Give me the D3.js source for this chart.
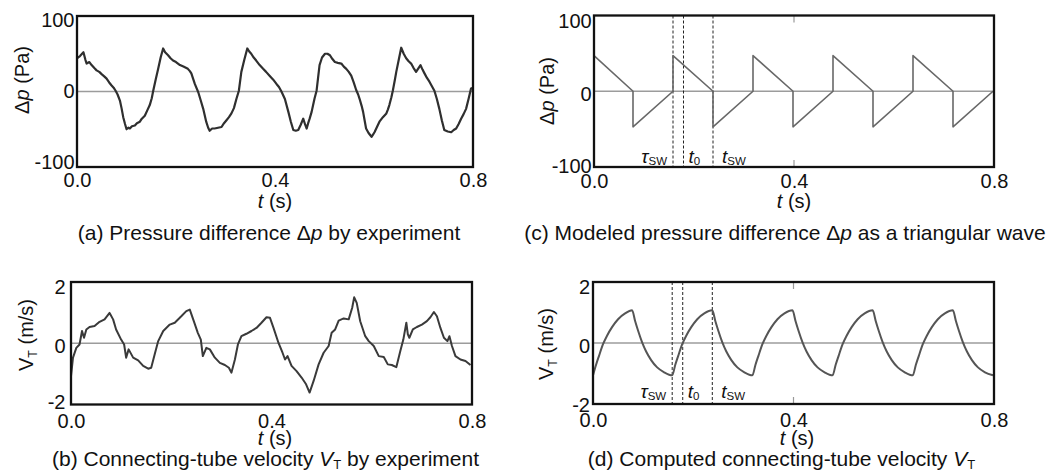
<!DOCTYPE html>
<html>
<head>
<meta charset="utf-8">
<script src="https://cdn.jsdelivr.net/npm/d3@7"></script>
<style>
  body { margin: 0; background: #fff; }
  svg text { font-family: "Liberation Sans", Arial, sans-serif; }
</style>
</head>
<body>
<svg id="chart" width="1048" height="473"></svg>
<script>
// ---- tick values ----
const timeTicks = [0, 0.4, 0.8];
const pressureTicks = [-100, 0, 100];
const velocityTicks = [-2, 0, 2];

// ---- (a) measured pressure difference Δp (Pa) ----
const expPressureT = [0.000,0.006,0.013,0.017,0.0195,0.025,0.0295,0.035,0.0396,0.045,0.0497,0.055,0.0598,0.065,0.0699,0.074,0.078,0.082,0.0867,0.090,0.0934,0.097,0.1001,0.104,0.1068,0.111,0.1169,0.121,0.127,0.131,0.137,0.142,0.147,0.151,0.154,0.159,0.164,0.169,0.174,0.178,0.184,0.189,0.194,0.200,0.208,0.215,0.224,0.228,0.231,0.235,0.238,0.245,0.250,0.255,0.261,0.265,0.268,0.273,0.278,0.285,0.292,0.297,0.302,0.307,0.312,0.317,0.322,0.327,0.332,0.338,0.344,0.348,0.352,0.357,0.362,0.369,0.376,0.382,0.389,0.396,0.403,0.408,0.413,0.420,0.427,0.432,0.437,0.442,0.447,0.452,0.457,0.461,0.464,0.467,0.470,0.474,0.477,0.480,0.484,0.487,0.490,0.495,0.501,0.506,0.511,0.516,0.521,0.527,0.534,0.539,0.544,0.549,0.554,0.559,0.564,0.568,0.571,0.575,0.578,0.581,0.584,0.589,0.595,0.598,0.601,0.606,0.611,0.618,0.625,0.628,0.631,0.635,0.638,0.642,0.645,0.650,0.655,0.660,0.665,0.670,0.675,0.680,0.685,0.690,0.694,0.698,0.702,0.707,0.712,0.717,0.722,0.727,0.732,0.737,0.742,0.749,0.756,0.761,0.766,0.771,0.776,0.781,0.786,0.791,0.796,0.800];
const expPressureP = [44,47,52,42,37,39,35,31,28,26,23,20,17,12,8,5,1,-4,-12,-22,-34,-43,-50,-48,-49,-46,-45,-42,-40,-36,-32,-25,-18,-9,1,16,30,45,57,52,48,44,41,39,35,33,30,27,24,16,10,-1,-12,-23,-40,-48,-52,-49,-49,-48,-47,-42,-38,-34,-29,-22,-10,1,26,42,57,53,50,45,41,35,30,26,21,16,10,6,0,-10,-27,-40,-51,-52,-51,-44,-36,-44,-49,-42,-36,-27,-18,-9,1,18,35,45,50,50,48,43,39,38,37,33,30,26,21,12,2,-4,-10,-19,-27,-38,-49,-55,-60,-57,-54,-47,-40,-34,-29,-24,-18,-8,1,15,26,42,58,50,44,40,37,31,26,31,35,29,24,18,13,7,1,-10,-23,-38,-51,-53,-54,-51,-49,-43,-36,-30,-23,-10,4,5];

// ---- (b) measured connecting-tube velocity V_T (m/s) ----
const expVelocityT = [0.000,0.004,0.0106,0.017,0.022,0.026,0.0306,0.037,0.047,0.057,0.067,0.077,0.084,0.090,0.100,0.106,0.110,0.115,0.124,0.134,0.144,0.154,0.160,0.167,0.174,0.184,0.190,0.197,0.207,0.220,0.230,0.237,0.245,0.253,0.259,0.263,0.270,0.277,0.287,0.297,0.307,0.315,0.320,0.327,0.333,0.340,0.350,0.360,0.370,0.380,0.390,0.397,0.404,0.414,0.422,0.427,0.432,0.440,0.450,0.460,0.469,0.476,0.484,0.494,0.504,0.514,0.520,0.527,0.534,0.544,0.554,0.561,0.565,0.570,0.577,0.587,0.594,0.604,0.614,0.624,0.632,0.640,0.649,0.657,0.663,0.669,0.672,0.675,0.682,0.690,0.700,0.710,0.717,0.724,0.730,0.737,0.744,0.751,0.755,0.760,0.767,0.777,0.787,0.797];
const expVelocityV = [-1.07,-0.47,-0.15,-0.04,0.40,0.18,0.45,0.53,0.56,0.70,0.78,0.99,0.78,0.45,0.12,-0.04,-0.47,-0.20,-0.47,-0.56,-0.74,-0.83,-0.80,-0.36,0.07,0.40,0.50,0.61,0.67,0.88,1.05,1.10,0.72,0.34,0.12,-0.42,-0.15,-0.20,-0.47,-0.64,-0.71,-0.80,-0.96,-0.53,-0.04,0.23,0.31,0.40,0.50,0.67,0.85,0.83,0.50,0.01,-0.31,-0.53,-0.42,-0.74,-0.91,-1.12,-1.34,-1.61,-1.23,-0.69,-0.31,-0.09,0.34,0.45,0.74,0.81,0.78,1.16,1.50,1.32,0.72,0.23,0.07,-0.09,-0.42,-0.45,-0.69,-0.71,-0.78,-0.25,0.12,0.67,0.29,0.18,0.45,0.53,0.61,0.72,0.85,1.02,0.88,0.50,0.18,0.07,0.23,-0.09,-0.42,-0.53,-0.58,-0.71];

// ---- (c) modelled triangular pressure difference Δp (Pa) ----
const modelPressureT = [0,0.078,0.078,0.158,0.158,0.238,0.238,0.318,0.318,0.398,0.398,0.478,0.478,0.558,0.558,0.638,0.638,0.718,0.718,0.798];
const modelPressureP = [47,0,-47,0,47,0,-47,0,47,0,-47,0,47,0,-47,0,47,0,-47,0];

// ---- (d) computed connecting-tube velocity V_T (m/s) ----
const modelVelocityT = [0,0.006,0.012,0.020,0.028,0.038,0.050,0.064,0.078,
  0.084,0.090,0.098,0.106,0.116,0.128,0.142,0.158,
  0.164,0.170,0.178,0.186,0.196,0.208,0.222,0.238,
  0.244,0.250,0.258,0.266,0.276,0.288,0.302,0.318,
  0.324,0.330,0.338,0.346,0.356,0.368,0.382,0.398,
  0.404,0.410,0.418,0.426,0.436,0.448,0.462,0.478,
  0.484,0.490,0.498,0.506,0.516,0.528,0.542,0.558,
  0.564,0.570,0.578,0.586,0.596,0.608,0.622,0.638,
  0.644,0.650,0.658,0.666,0.676,0.688,0.702,0.718,
  0.724,0.730,0.738,0.746,0.756,0.768,0.782,0.798];
const modelVelocityV = [-1.06,-0.72,-0.42,-0.04,0.24,0.52,0.78,0.97,1.07,
  0.72,0.40,0.02,-0.28,-0.56,-0.80,-0.96,-1.06,
  -0.72,-0.42,-0.04,0.24,0.52,0.78,0.97,1.07,
  0.72,0.40,0.02,-0.28,-0.56,-0.80,-0.96,-1.06,
  -0.72,-0.42,-0.04,0.24,0.52,0.78,0.97,1.07,
  0.72,0.40,0.02,-0.28,-0.56,-0.80,-0.96,-1.06,
  -0.72,-0.42,-0.04,0.24,0.52,0.78,0.97,1.07,
  0.72,0.40,0.02,-0.28,-0.56,-0.80,-0.96,-1.06,
  -0.72,-0.42,-0.04,0.24,0.52,0.78,0.97,1.07,
  0.72,0.40,0.02,-0.28,-0.56,-0.80,-0.96,-1.06];

// ---- switching instants marked on the model panels ----
const markerTimes = [0.158, 0.179, 0.238];
const markerMain = ["τ", "t", "t"];
const markerSub = ["SW", "0", "SW"];

const svg = d3.select("#chart");
const FONT = "Liberation Sans, Arial, sans-serif";
const TICK_SIZE = 20, TITLE_SIZE = 20, CAPTION_SIZE = 21;

function addRich(sel, parts, size) {
  parts.forEach(p => {
    const ts = sel.append("tspan").text(p.t);
    if (p.i) ts.attr("font-style", "italic");
    if (p.sub) ts.attr("font-size", size * 0.62).attr("dy", p.dy || 4);
    if (p.back) ts.attr("dy", p.back);
  });
}

function drawPanel(cfg) {
  const g = svg.append("g");
  const x = d3.scaleLinear().domain([0, 0.8]).range([cfg.left, cfg.right]);
  const y = d3.scaleLinear().domain(cfg.yDomain).range([cfg.bottom, cfg.top]);

  // zero reference line
  g.append("line")
    .attr("x1", cfg.left).attr("x2", cfg.right)
    .attr("y1", y(0)).attr("y2", y(0))
    .attr("stroke", "#9c9c9c").attr("stroke-width", 1.3);

  // short inward ticks at mid time
  if (cfg.innerTicks) {
    [[cfg.top, cfg.top + 7], [cfg.bottom, cfg.bottom - 7]].forEach(([a, b]) => {
      g.append("line").attr("x1", x(0.4)).attr("x2", x(0.4))
        .attr("y1", a).attr("y2", b)
        .attr("stroke", "#999").attr("stroke-width", 1.2);
    });
  }

  // switching markers
  if (cfg.markers) {
    markerTimes.forEach((t, i) => {
      g.append("line").attr("x1", x(t)).attr("x2", x(t))
        .attr("y1", cfg.top).attr("y2", cfg.bottom)
        .attr("stroke", "#222").attr("stroke-width", 1)
        .attr("stroke-dasharray", "3,2");
      const off = [-6, 5, 9][i];
      const tx = g.append("text")
        .attr("x", x(t) + off).attr("y", cfg.markerY)
        .attr("text-anchor", i === 0 ? "end" : "start")
        .attr("font-family", "Liberation Serif, Times New Roman, serif")
        .attr("font-size", 19).attr("fill", "#111");
      tx.append("tspan").attr("font-style", "italic").text(markerMain[i]);
      tx.append("tspan").attr("font-size", 11.5).attr("dy", 2).text(markerSub[i]);
    });
  }

  // data curve
  const line = d3.line().x(d => x(d[0])).y(d => y(d[1])).curve(cfg.curve || d3.curveLinear);
  g.append("path")
    .datum(d3.zip(cfg.t, cfg.v))
    .attr("d", line)
    .attr("fill", "none")
    .attr("stroke", cfg.stroke)
    .attr("stroke-width", cfg.strokeWidth)
    .attr("stroke-linejoin", "round");

  // frame
  g.append("rect")
    .attr("x", cfg.left).attr("y", cfg.top)
    .attr("width", cfg.right - cfg.left).attr("height", cfg.bottom - cfg.top)
    .attr("fill", "none").attr("stroke", "#111").attr("stroke-width", 2.3);

  // x axis labels
  const xa = g.append("g")
    .attr("transform", `translate(0,${cfg.bottom})`)
    .call(d3.axisBottom(x).tickValues(timeTicks).tickSize(0)
      .tickPadding(cfg.xPad).tickFormat(d3.format(".1f")));
  xa.select(".domain").remove();
  xa.attr("font-size", TICK_SIZE).attr("font-family", FONT);
  xa.selectAll("text").attr("fill", "#111");

  // y axis labels (plain hyphen for negatives)
  const ya = g.append("g")
    .attr("transform", `translate(${cfg.left},0)`)
    .call(d3.axisLeft(y).tickValues(cfg.yTicks).tickSize(0)
      .tickPadding(cfg.yPad).tickFormat(d => String(d)));
  ya.select(".domain").remove();
  ya.attr("font-size", TICK_SIZE).attr("font-family", FONT);
  ya.selectAll("text").attr("fill", "#111")
    .attr("transform", (d, i) => `translate(0,${cfg.yShift[i]})`);

  // rotated y title
  const yt = g.append("text")
    .attr("transform", `translate(${cfg.yTitle[0]},${cfg.yTitle[1]}) rotate(-90)`)
    .attr("text-anchor", "middle").attr("font-size", TITLE_SIZE).attr("fill", "#111");
  addRich(yt, cfg.yTitleParts, TITLE_SIZE);

  // time title
  const tt = g.append("text")
    .attr("x", cfg.tTitle[0]).attr("y", cfg.tTitle[1])
    .attr("text-anchor", "middle").attr("font-size", TITLE_SIZE).attr("fill", "#111");
  addRich(tt, [{ t: "t", i: true }, { t: " (s)" }], TITLE_SIZE);

  // caption
  const cap = g.append("text")
    .attr("x", cfg.caption[0]).attr("y", cfg.caption[1])
    .attr("text-anchor", "middle").attr("font-size", CAPTION_SIZE).attr("fill", "#111");
  addRich(cap, cfg.captionParts, CAPTION_SIZE);
}

const dpTitle = [{ t: "Δ" }, { t: "p", i: true }, { t: " (Pa)" }];
const vtTitle = [{ t: "V" }, { t: "T", sub: true, dy: 4 }, { t: " (m/s)", back: -4 }];

drawPanel({
  left: 77, right: 473, top: 16, bottom: 167,
  yDomain: [-100, 100], yTicks: pressureTicks, yShift: [-4.5, 0, 4],
  xPad: 6, yPad: 2.5,
  t: expPressureT, v: expPressureP, stroke: "#2f2f2f", strokeWidth: 2.2,
  yTitle: [29, 80], yTitleParts: dpTitle,
  tTitle: [275, 208],
  caption: [269, 240],
  captionParts: [{ t: "(a) Pressure difference Δ" }, { t: "p", i: true }, { t: " by experiment" }]
});

drawPanel({
  left: 71, right: 472, top: 282, bottom: 404.5,
  yDomain: [-2, 2], yTicks: velocityTicks, yShift: [-2, 3, 5.5],
  xPad: 9, yPad: 5.5,
  t: expVelocityT, v: expVelocityV, stroke: "#3a3a3a", strokeWidth: 2,
  yTitle: [33, 335], yTitleParts: vtTitle,
  tTitle: [275, 445],
  caption: [265.5, 466],
  captionParts: [{ t: "(b) Connecting-tube velocity " }, { t: "V", i: true },
    { t: "T", sub: true, dy: 3 }, { t: " by experiment", back: -3 }]
});

drawPanel({
  left: 594, right: 994, top: 15.5, bottom: 167,
  yDomain: [-100, 100], yTicks: pressureTicks, yShift: [-1, 3, 6],
  xPad: 7, yPad: 2.3,
  t: modelPressureT, v: modelPressureP, stroke: "#686868", strokeWidth: 1.6,
  innerTicks: true, markers: true, markerY: 162.5,
  yTitle: [554, 91], yTitleParts: dpTitle,
  tTitle: [794, 208],
  caption: [785, 240],
  captionParts: [{ t: "(c) Modeled pressure difference Δ" }, { t: "p", i: true }, { t: " as a triangular wave" }]
});

drawPanel({
  left: 593, right: 994, top: 282, bottom: 404,
  yDomain: [-2, 2], yTicks: velocityTicks, yShift: [1, 3, 5.5],
  xPad: 8.5, yPad: 3,
  t: modelVelocityT, v: modelVelocityV, stroke: "#555", strokeWidth: 2,
  curve: d3.curveMonotoneX,
  innerTicks: true, markers: true, markerY: 397.5,
  yTitle: [553, 344], yTitleParts: vtTitle,
  tTitle: [797, 445],
  caption: [781.5, 466],
  captionParts: [{ t: "(d) Computed connecting-tube velocity " }, { t: "V", i: true },
    { t: "T", sub: true, dy: 3 }]
});
</script>
</body>
</html>
